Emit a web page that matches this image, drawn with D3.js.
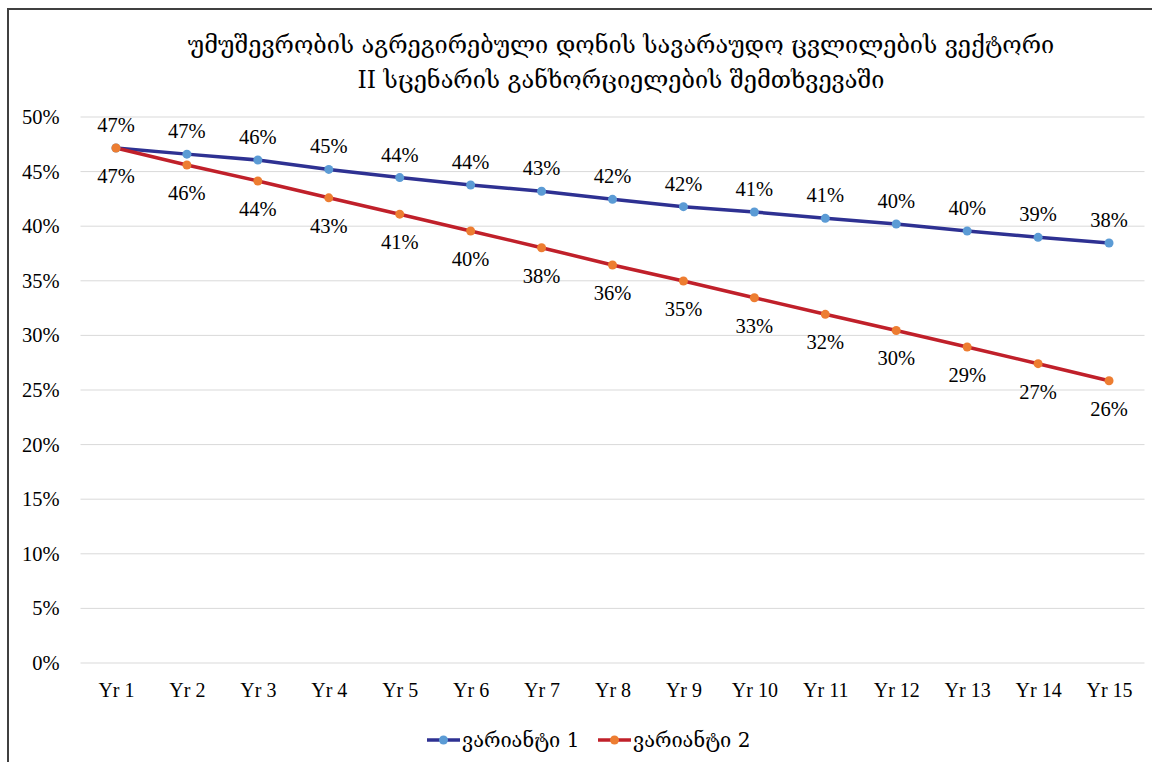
<!DOCTYPE html>
<html><head><meta charset="utf-8">
<script src="https://cdn.jsdelivr.net/npm/d3@7"></script>
<style>body{margin:0;background:#fff}svg{display:block}</style>
</head><body>
<script>
const categories = ["Yr 1","Yr 2","Yr 3","Yr 4","Yr 5","Yr 6","Yr 7","Yr 8","Yr 9","Yr 10","Yr 11","Yr 12","Yr 13","Yr 14","Yr 15"];
const series1 = [0.4716,0.466,0.4606,0.452,0.4445,0.4377,0.432,0.4246,0.4179,0.413,0.4072,0.402,0.3956,0.3898,0.3846];
const series2 = [0.4716,0.456,0.4414,0.426,0.411,0.3956,0.3803,0.3645,0.3498,0.3345,0.3193,0.3045,0.2894,0.2741,0.2585];
const seriesNames = ["ვარიანტი 1","ვარიანტი 2"];
const yTicks = [0,0.05,0.1,0.15,0.2,0.25,0.3,0.35,0.4,0.45,0.5];
const titleLines = ["უმუშევრობის აგრეგირებული დონის სავარაუდო ცვლილების ვექტორი","II სცენარის განხორციელების შემთხვევაში"];

(function(){
const W=1152,H=762;
const font = "Liberation Serif, DejaVu Serif, serif";
const gfont = "DejaVu Serif, DejaVu Sans, serif";
const svg = d3.select("body").append("svg").attr("width",W).attr("height",H);
svg.append("rect").attr("x",8).attr("y",9).attr("width",W+20).attr("height",H+20)
  .attr("fill","#fff").attr("stroke","#404040").attr("stroke-width",2);

const pL=80.5,pR=1144.5,pT=117,pB=663;
const x = d3.scalePoint().domain(categories).range([pL,pR]).padding(0.5);
const y = d3.scaleLinear().domain([0,0.5]).range([pB,pT]);

// title
svg.append("g").selectAll("text").data(titleLines).join("text")
  .attr("x",621).attr("y",(d,i)=>53+i*35).attr("text-anchor","middle")
  .attr("font-family",gfont).attr("font-size",23.5).attr("fill","#000")
  .text(d=>d);

// grid
svg.append("g").selectAll("line").data(yTicks).join("line")
  .attr("x1",pL).attr("x2",pR).attr("y1",d=>y(d)).attr("y2",d=>y(d))
  .attr("stroke","#d9d9d9").attr("stroke-width",1);

// y axis
const yAxis = d3.axisLeft(y).tickValues(yTicks).tickFormat(d3.format(".0%")).tickSize(0).tickPadding(21);
const ya = svg.append("g").attr("transform",`translate(${pL},0)`).call(yAxis);
ya.select(".domain").remove();
ya.selectAll("text").attr("font-family",font).attr("font-size",20.5).attr("fill","#000");

// x axis
const xAxis = d3.axisBottom(x).tickSize(0).tickPadding(20);
const xa = svg.append("g").attr("transform",`translate(0,${pB})`).call(xAxis);
xa.select(".domain").remove();
xa.selectAll("text").attr("font-family",font).attr("font-size",20).attr("fill","#000");

const data = [
  {name:seriesNames[0],vals:series1,line:"#2e3192",mark:"#5b9bd5",dy:-16},
  {name:seriesNames[1],vals:series2,line:"#c0202a",mark:"#ed7d31",dy:35}
];
const line = d3.line().x((d,i)=>x(categories[i])).y(d=>y(d));
data.forEach(s=>{
  svg.append("path").datum(s.vals).attr("d",line).attr("fill","none")
    .attr("stroke",s.line).attr("stroke-width",3.5).attr("stroke-linejoin","round");
});
data.forEach(s=>{
  svg.append("g").selectAll("circle").data(s.vals).join("circle")
    .attr("cx",(d,i)=>x(categories[i])).attr("cy",d=>y(d)).attr("r",4.5).attr("fill",s.mark);
  svg.append("g").selectAll("text").data(s.vals).join("text")
    .attr("x",(d,i)=>x(categories[i])).attr("y",d=>y(d)+s.dy).attr("text-anchor","middle")
    .attr("font-family",font).attr("font-size",20.5).attr("fill","#000")
    .text(d=>d3.format(".0%")(d));
});

// legend
const lg = svg.append("g");
const items=[{x:427},{x:598}];
data.forEach((s,i)=>{
  const lx = items[i].x, ly = 740;
  lg.append("line").attr("x1",lx).attr("x2",lx+33).attr("y1",ly).attr("y2",ly).attr("stroke",s.line).attr("stroke-width",3.5);
  lg.append("circle").attr("cx",lx+16.5).attr("cy",ly).attr("r",4.5).attr("fill",s.mark);
  lg.append("text").attr("x",lx+35).attr("y",ly+7).attr("font-family",gfont)
    .attr("font-size",20).attr("fill","#000").text(s.name);
});
})();
</script>
</body></html>
